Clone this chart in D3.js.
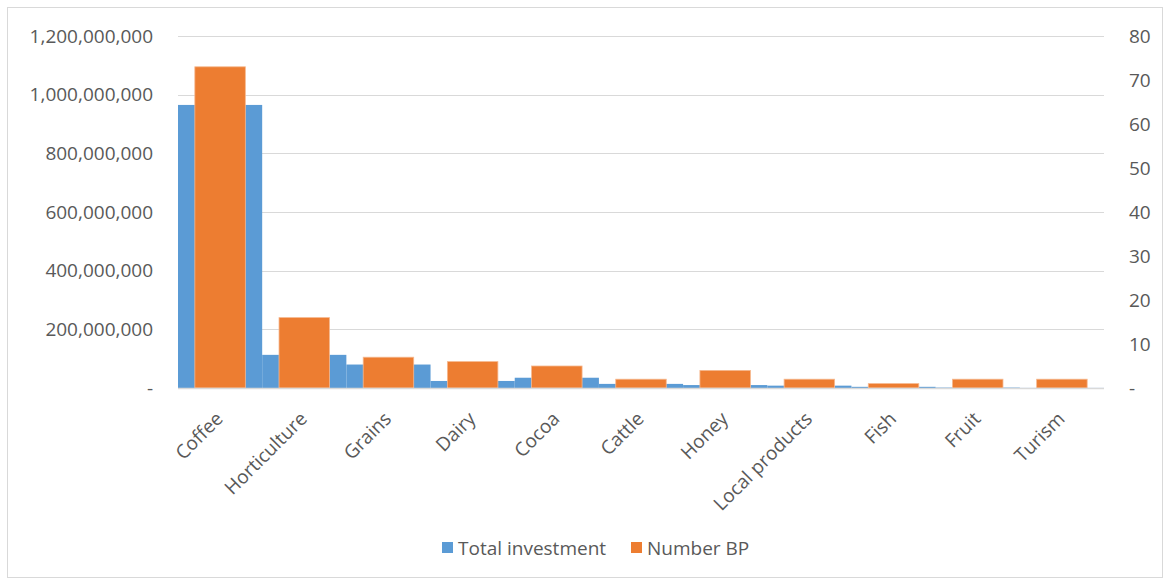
<!DOCTYPE html>
<html>
<head>
<meta charset="utf-8">
<script src="https://cdn.jsdelivr.net/npm/d3@7"></script>
<style>
  html, body { margin: 0; padding: 0; background: #fff; }
  svg { display: block; font-family: "Open Sans", "Liberation Sans", sans-serif; }
</style>
</head>
<body>
<svg id="chart" width="1165" height="581"></svg>
<script>
// Business plans by value chain: total investment (left axis) and number of plans (right axis)
const categories = ["Coffee", "Horticulture", "Grains", "Dairy", "Cocoa", "Cattle",
                    "Honey", "Local products", "Fish", "Fruit", "Turism"];
const totalInvestment = [965000000, 113000000, 80000000, 24000000, 35000000, 14000000,
                         10000000, 8000000, 4000000, 1500000, 300000];
const numberBP = [73, 16, 7, 6, 5, 2, 4, 2, 1, 2, 2];
const leftTicks = [0, 200000000, 400000000, 600000000, 800000000, 1000000000, 1200000000];
const rightTicks = [0, 10, 20, 30, 40, 50, 60, 70, 80];
const seriesNames = ["Total investment", "Number BP"];
const seriesColors = ["#5B9BD5", "#ED7D31"];

const svg = d3.select("#chart");
const plot = { left: 178, right: 1104, top: 36, bottom: 388 };
const textColor = "#595959";
const gridColor = "#d9d9d9";
const fontSize = "19px";

// outer chart frame
svg.append("rect")
  .attr("x", 7.5).attr("y", 7.5)
  .attr("width", 1155).attr("height", 570)
  .attr("fill", "#fff").attr("stroke", gridColor).attr("stroke-width", 1);

const x = d3.scaleBand().domain(categories).range([plot.left, plot.right]).padding(0);
const xNarrow = d3.scaleBand().domain(categories).range([plot.left, plot.right]).paddingInner(0.4).paddingOuter(0.2);
const yLeft = d3.scaleLinear().domain([0, 1200000000]).range([plot.bottom, plot.top]);
const yRight = d3.scaleLinear().domain([0, 80]).range([plot.bottom, plot.top]);

// gridlines
svg.append("g")
  .selectAll("line")
  .data(leftTicks.filter(d => d > 0))
  .join("line")
  .attr("x1", plot.left).attr("x2", plot.right)
  .attr("y1", d => Math.round(yLeft(d)) + 0.5).attr("y2", d => Math.round(yLeft(d)) + 0.5)
  .attr("stroke", gridColor).attr("stroke-width", 1.2);

// left axis
const fmtLeft = d => d === 0 ? "-" : d3.format(",")(d);
const leftAxis = svg.append("g")
  .attr("transform", `translate(${plot.left - 25},0)`)
  .call(d3.axisLeft(yLeft).tickValues(leftTicks).tickFormat(fmtLeft).tickSize(0).tickPadding(0));
leftAxis.select(".domain").remove();
leftAxis.selectAll("text")
  .attr("fill", textColor).style("font-size", fontSize)
  .style("font-family", "'Open Sans', sans-serif");

// right axis
const fmtRight = d => d === 0 ? "-" : d3.format(",")(d);
const rightAxis = svg.append("g")
  .attr("transform", `translate(${plot.right + 25},0)`)
  .call(d3.axisRight(yRight).tickValues(rightTicks).tickFormat(fmtRight).tickSize(0).tickPadding(0));
rightAxis.select(".domain").remove();
rightAxis.selectAll("text")
  .attr("fill", textColor).style("font-size", fontSize)
  .style("font-family", "'Open Sans', sans-serif");

// investment bars (full category width)
svg.append("g")
  .selectAll("rect")
  .data(categories)
  .join("rect")
  .attr("x", d => x(d))
  .attr("width", x.bandwidth())
  .attr("y", (d, i) => yLeft(totalInvestment[i]))
  .attr("height", (d, i) => plot.bottom - yLeft(totalInvestment[i]))
  .attr("fill", seriesColors[0]);

// number of business plans (secondary axis, narrower bars on top)
svg.append("g")
  .selectAll("rect")
  .data(categories)
  .join("rect")
  .attr("x", d => xNarrow(d))
  .attr("width", xNarrow.bandwidth())
  .attr("y", (d, i) => yRight(numberBP[i]))
  .attr("height", (d, i) => plot.bottom - yRight(numberBP[i]))
  .attr("fill", seriesColors[1])
  .attr("stroke", "#f6b88f").attr("stroke-width", 0.8);

// category axis line
svg.append("line")
  .attr("x1", plot.left).attr("x2", plot.right)
  .attr("y1", plot.bottom + 0.5).attr("y2", plot.bottom + 0.5)
  .attr("stroke", gridColor).attr("stroke-width", 1.5);

// category labels, rotated
const bottomAxis = svg.append("g")
  .attr("transform", `translate(0,${plot.bottom})`)
  .call(d3.axisBottom(x).tickSize(0).tickPadding(0));
bottomAxis.select(".domain").remove();
bottomAxis.selectAll("text")
  .attr("fill", textColor).style("font-size", fontSize)
  .style("font-family", "'Open Sans', sans-serif")
  .attr("text-anchor", "end")
  .attr("dy", null).attr("y", 0)
  .attr("transform", "translate(4,32) rotate(-45)");

// legend
const legend = svg.append("g").attr("transform", "translate(442,548)");
const legendItems = legend.selectAll("g")
  .data(seriesNames)
  .join("g")
  .attr("transform", (d, i) => `translate(${i === 0 ? 0 : 189},0)`);
legendItems.append("rect")
  .attr("x", 0).attr("y", -6).attr("width", 11).attr("height", 11)
  .attr("fill", (d, i) => seriesColors[i]);
legendItems.append("text")
  .attr("x", 16).attr("y", 0).attr("dy", "0.35em")
  .attr("fill", textColor).style("font-size", fontSize)
  .text(d => d);
</script>
</body>
</html>
